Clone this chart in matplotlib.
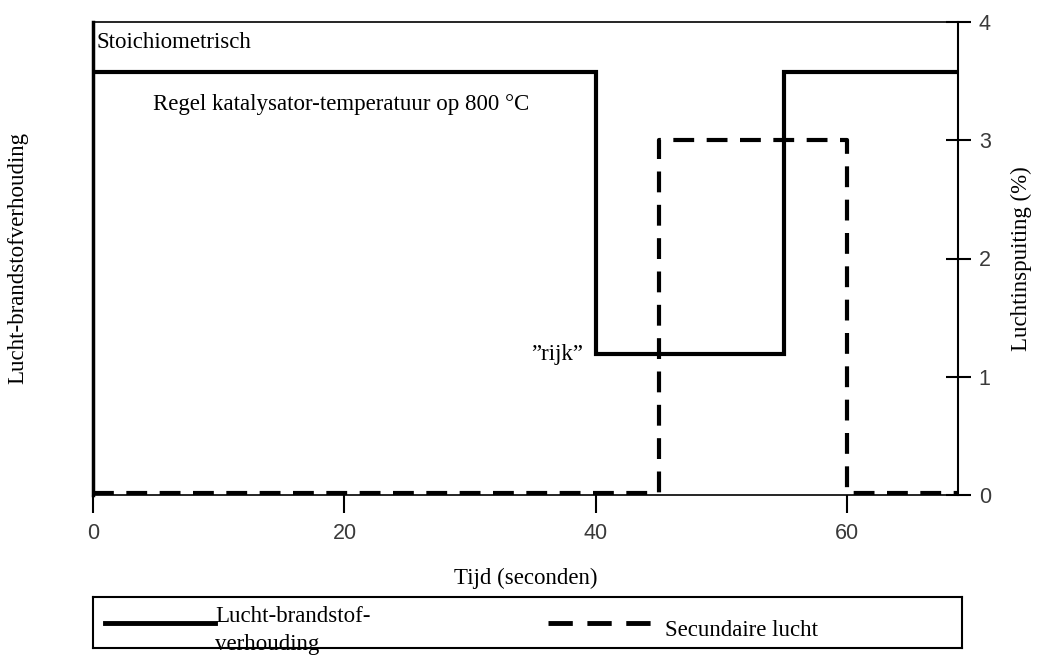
import matplotlib
matplotlib.use("Agg")
import matplotlib.pyplot as plt
from matplotlib.lines import Line2D

# Data
afr_time = [0, 40, 40, 55, 55, 68.8]
afr_value = [3.58, 3.58, 1.19, 1.19, 3.58, 3.58]
air_time = [0, 45, 45, 60, 60, 68.8]
air_value = [0.02, 0.02, 3.0, 3.0, 0.02, 0.02]
x_ticks = [0, 20, 40, 60]
y_ticks = [0, 1, 2, 3, 4]

serif = ["Liberation Serif", "DejaVu Serif"]
sans = ["Liberation Sans", "DejaVu Sans"]
FS = 16.5

fig = plt.figure(figsize=(10.4, 6.55), dpi=100)
ax = fig.add_axes([93/1040, 1-495/655, (958-93)/1040, (495-22)/655])
ax.plot(afr_time, afr_value, color="black", lw=3, solid_joinstyle="miter", zorder=3)
ax.plot(air_time, air_value, color="black", lw=3, linestyle=(0, (5, 3)), zorder=3)

ax.set_xlim(0, 68.8)
ax.set_ylim(0, 4)
ax.set_xticks(x_ticks)
ax.set_xticklabels([str(t) for t in x_ticks], fontfamily=sans, fontsize=15.5, color="#3a3a3a")
ax.tick_params(axis="x", direction="out", length=13, width=1.5, pad=7)
ax.yaxis.tick_right()
ax.yaxis.set_label_position("right")
ax.set_yticks(y_ticks)
ax.set_yticklabels([str(t) for t in y_ticks], fontfamily=sans, fontsize=15.5, color="#3a3a3a")
ax.tick_params(axis="y", direction="inout", length=18, width=1.5, pad=6)

ax.spines["left"].set_linewidth(2.5)
ax.spines["top"].set_linewidth(1.2)
ax.spines["right"].set_linewidth(1.5)
ax.spines["bottom"].set_linewidth(1.2)

ax.set_xlabel("Tijd (seconden)", fontfamily=serif, fontsize=FS, labelpad=17)
ax.set_ylabel("Luchtinspuiting (%)", fontfamily=serif, fontsize=FS, labelpad=14)
fig.text(18/1040, 1-258/655, "Lucht-brandstofverhouding", rotation=90, ha="center", va="center",
         fontfamily=serif, fontsize=FS)

ax.text(0.3, 3.83, "Stoichiometrisch", fontfamily=serif, fontsize=FS, va="center", ha="left")
ax.text(4.8, 3.3, "Regel katalysator-temperatuur op 800 °C", fontfamily=serif, fontsize=FS,
        va="center", ha="left")
ax.text(39.0, 1.19, "”rijk”", fontfamily=serif, fontsize=FS, va="center", ha="right")

# Legend box
lax = fig.add_axes([93/1040, 1-648/655, (962-93)/1040, (648-597)/655])
lax.set_xlim(0, 1)
lax.set_ylim(0, 1)
lax.set_xticks([])
lax.set_yticks([])
for s in lax.spines.values():
    s.set_linewidth(1.5)
lax.add_line(Line2D([12/869, 122/869], [0.5, 0.5], color="black", lw=3.5))
lax.text(122/869, 0.82, "Lucht-brandstof-\nverhouding", fontfamily=serif, fontsize=FS,
         va="top", ha="left", clip_on=False, linespacing=1.45)
lax.add_line(Line2D([455/869, 568/869], [0.5, 0.5], color="black", lw=3.5, linestyle=(0, (5, 3))))
lax.text(572/869, 0.35, "Secundaire lucht", fontfamily=serif, fontsize=FS, va="center", ha="left")

fig.savefig("out.png", dpi=100)
